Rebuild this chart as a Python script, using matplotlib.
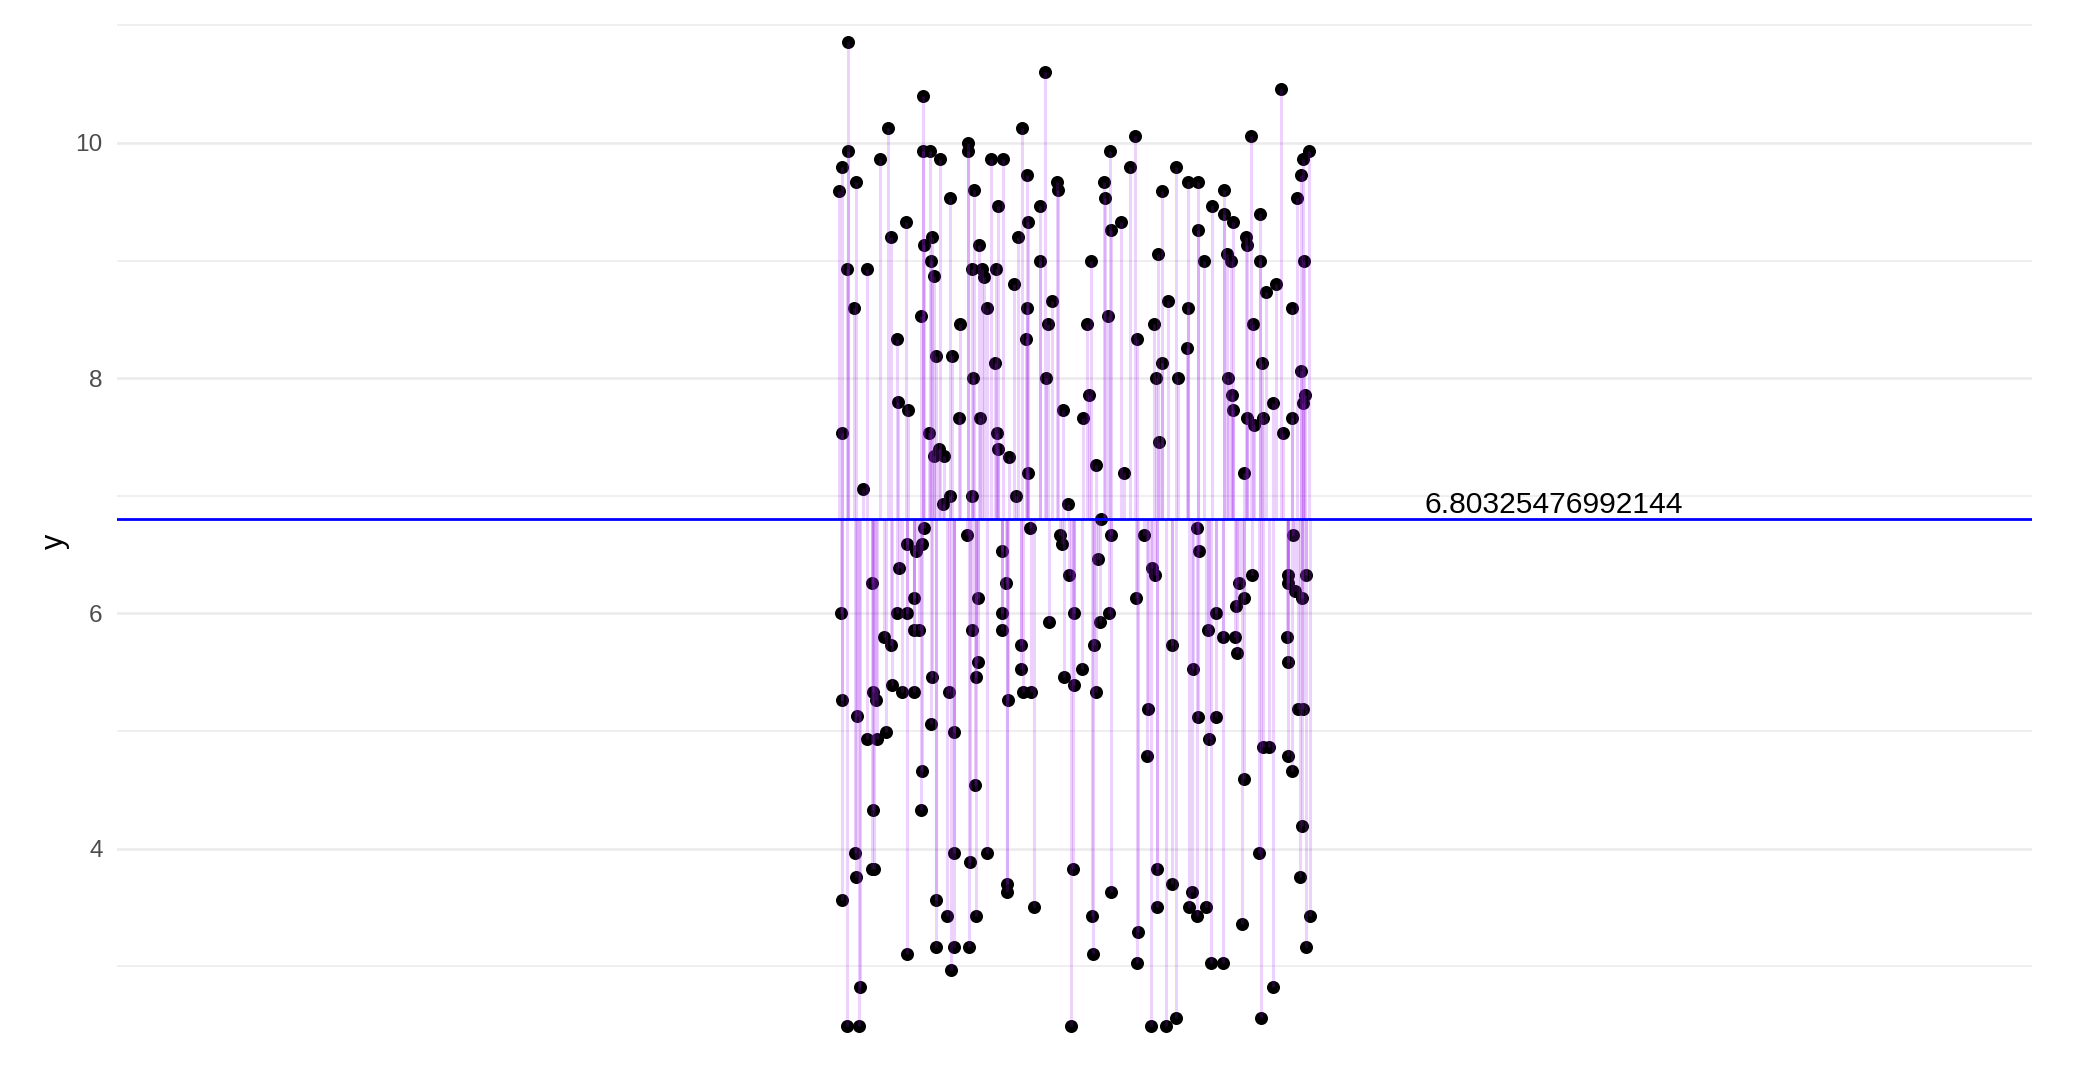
import matplotlib
matplotlib.use("Agg")
import matplotlib.pyplot as plt
import numpy as np

# x positions (as laid out on the original axis) and y values of each point
x_pos = [
    847.7, 923.3, 888.3, 847.7, 923.3, 930.0, 880.0, 940.0, 842.3, 855.7, 839.0, 950.0,
    906.0, 891.0, 931.7, 924.3, 931.0, 846.7, 867.0, 934.0, 853.7, 921.0, 897.3, 936.0,
    951.7, 898.3, 908.3, 841.7, 929.0, 939.0, 934.3, 944.3, 863.3, 943.3, 950.0, 924.0,
    907.3, 922.3, 915.7, 899.0, 871.7, 914.3, 840.7, 897.3, 907.3, 914.3, 919.0, 883.7,
    891.0, 931.7, 892.3, 873.3, 902.3, 914.3, 949.0, 842.3, 876.0, 857.0, 931.0, 885.7,
    866.7, 877.3, 954.3, 922.3, 873.3, 921.0, 855.0, 954.3, 871.7, 874.3, 855.7, 842.3,
    936.0, 946.7, 936.0, 906.7, 954.3, 951.0, 860.0, 846.7, 859.3,
    1045.0, 1021.7, 967.7, 967.7, 990.7, 1003.3, 1027.3, 1056.7, 1057.7, 974.0, 998.3, 1040.0,
    1028.3, 1017.7, 979.0, 1040.0, 972.3, 982.3, 996.0, 984.3, 1014.0, 1052.3, 986.7, 1026.7,
    960.0, 1047.7, 1025.7, 995.0, 972.7, 1046.0, 1063.3, 959.0, 980.0, 996.7, 997.7, 1009.3,
    1027.7, 972.3, 1015.7, 1068.3, 966.7, 1030.0, 1060.0,
    1062.3, 1001.7, 1006.0, 1069.0, 977.7, 1002.3, 1049.0, 1074.3, 971.7, 1002.3, 1021.0, 977.7,
    975.7, 1021.0, 1064.3, 1074.3, 1008.3, 1023.3, 1031.0, 975.0, 970.3, 987.0, 1073.3, 1006.7,
    1006.7, 976.0, 1034.3, 969.3, 1071.0,
    1135.0, 1110.0, 1130.0, 1175.7, 1104.0, 1105.0, 1162.3, 1121.0, 1110.7, 1157.7, 1091.0, 1167.7,
    1107.7, 1086.7, 1154.3, 1136.7, 1161.7, 1156.0, 1177.7, 1089.0, 1082.7, 1159.3, 1095.7, 1124.3,
    1101.0, 1110.7, 1144.3,
    1098.3, 1152.3, 1155.0, 1135.7, 1100.0, 1109.3, 1094.0, 1171.7, 1082.3, 1096.0, 1147.7, 1146.7,
    1157.3, 1110.7, 1172.3, 1156.7, 1091.7, 1138.3, 1093.3, 1137.3, 1151.0, 1165.7, 1175.7,
    1281.0, 1251.0, 1309.0, 1303.3, 1300.7, 1187.7, 1197.7, 1224.3, 1297.3, 1211.7, 1224.3, 1232.7,
    1260.0, 1197.7, 1245.7, 1246.7, 1226.7, 1204.3, 1231.0, 1260.0, 1304.0, 1275.7, 1265.7, 1188.3,
    1291.7, 1253.3, 1186.7, 1262.3, 1301.0, 1227.7, 1231.7, 1305.0, 1303.3, 1233.3, 1272.7, 1246.7,
    1263.3, 1292.3, 1254.3, 1283.3, 1244.3, 1197.3, 1293.3,
    1199.3, 1251.7, 1239.3, 1287.7, 1287.7, 1305.7, 1295.0, 1301.7, 1244.3, 1236.0, 1216.0, 1208.3,
    1223.3, 1235.0, 1287.3, 1236.7, 1288.3, 1193.3, 1297.7, 1303.3, 1198.3, 1216.0, 1209.0, 1263.3,
    1269.3, 1288.3, 1292.3, 1244.3, 1302.3, 1259.3, 1300.3, 1192.3, 1189.3, 1197.3, 1205.7, 1242.3,
    1310.0, 1305.7, 1211.0, 1223.3, 1273.3, 1260.7,
]
y_val = [
    10.86, 10.40, 10.13, 9.93, 9.93, 9.93, 9.86, 9.86, 9.80, 9.67, 9.59, 9.53,
    9.33, 9.20, 9.20, 9.13, 9.00, 8.93, 8.93, 8.87, 8.60, 8.53, 8.33, 8.19,
    8.19, 7.80, 7.73, 7.53, 7.53, 7.40, 7.34, 7.34, 7.06, 6.93, 7.00, 6.73,
    6.59, 6.59, 6.53, 6.39, 6.26, 6.13, 6.00, 6.00, 6.00, 5.86, 5.86, 5.80,
    5.73, 5.46, 5.39, 5.33, 5.33, 5.33, 5.33, 5.26, 5.26, 5.13, 5.06, 4.99,
    4.93, 4.93, 4.99, 4.66, 4.33, 4.33, 3.96, 3.96, 3.83, 3.83, 3.76, 3.56,
    3.56, 3.43, 3.16, 3.10, 3.16, 2.97, 2.82, 2.49, 2.49,
    10.60, 10.13, 10.00, 9.93, 9.86, 9.86, 9.73, 9.67, 9.60, 9.60, 9.46, 9.46,
    9.33, 9.20, 9.13, 9.00, 8.93, 8.93, 8.93, 8.86, 8.80, 8.66, 8.60, 8.60,
    8.46, 8.46, 8.33, 8.13, 8.00, 8.00, 7.73, 7.66, 7.66, 7.53, 7.40, 7.33,
    7.19, 7.00, 7.00, 6.93, 6.67, 6.73, 6.67,
    6.59, 6.53, 6.26, 6.33, 6.13, 6.00, 5.93, 6.00, 5.86, 5.86, 5.73, 5.59,
    5.46, 5.53, 5.46, 5.39, 5.26, 5.33, 5.33, 4.54, 3.89, 3.96, 3.83, 3.70,
    3.63, 3.43, 3.50, 3.16, 2.49,
    10.06, 9.93, 9.80, 9.80, 9.67, 9.53, 9.59, 9.33, 9.26, 9.06, 9.00, 8.66,
    8.53, 8.46, 8.46, 8.33, 8.13, 8.00, 8.00, 7.86, 7.66, 7.46, 7.26, 7.19,
    6.80, 6.67, 6.67,
    6.46, 6.39, 6.33, 6.13, 5.93, 6.00, 5.73, 5.73, 5.53, 5.33, 5.19, 4.79,
    3.83, 3.63, 3.70, 3.50, 3.43, 3.29, 3.10, 3.03, 2.49, 2.49, 2.56,
    10.46, 10.06, 9.93, 9.86, 9.73, 9.67, 9.67, 9.60, 9.53, 9.46, 9.40, 9.33,
    9.40, 9.26, 9.20, 9.13, 9.06, 9.00, 9.00, 9.00, 9.00, 8.80, 8.73, 8.60,
    8.60, 8.46, 8.26, 8.13, 8.06, 8.00, 7.86, 7.86, 7.79, 7.73, 7.79, 7.66,
    7.66, 7.66, 7.60, 7.53, 7.19, 6.73, 6.67,
    6.53, 6.33, 6.26, 6.33, 6.26, 6.33, 6.19, 6.13, 6.13, 6.06, 6.00, 5.86,
    5.80, 5.80, 5.80, 5.66, 5.59, 5.53, 5.19, 5.19, 5.12, 5.12, 4.93, 4.86,
    4.86, 4.79, 4.66, 4.59, 4.19, 3.96, 3.76, 3.63, 3.50, 3.43, 3.50, 3.36,
    3.43, 3.16, 3.03, 3.03, 2.82, 2.56,
]
mean_y = 6.80325476992144
mean_label = "6.80325476992144"
label_x = 1554
major_ticks = [4, 6, 8, 10]
minor_ticks = [3, 5, 7, 9, 11]

x = np.array(x_pos)
y = np.array(y_val)

plt.rcParams['font.family'] = ['Liberation Sans', 'DejaVu Sans']

fig = plt.figure(figsize=(10.4, 5.46), dpi=200, facecolor='white')
ax = fig.add_axes([0.0561, 0.015, 0.9208, 0.979])

ax.set_xlim(116.7, 2032)
ax.set_ylim(2.07, 11.16)

# grid like theme_minimal
for t in major_ticks:
    ax.axhline(t, color='#EBEBEB', lw=0.9, zorder=0)
for t in minor_ticks:
    ax.axhline(t, color='#EBEBEB', lw=0.55, zorder=0)

ax.scatter(x, y, s=22, color='black', zorder=2, linewidths=0)
ax.vlines(x, mean_y, y, colors='#A020F0', alpha=0.2, linewidth=1.1, zorder=3)
ax.axhline(mean_y, color='blue', lw=1.0, zorder=4)
ax.text(label_x, mean_y + 0.05, mean_label, ha='center', va='baseline',
        fontsize=10.8, color='black', zorder=5)

ax.set_yticks(major_ticks)
ax.set_yticklabels([str(t) for t in major_ticks])
ax.set_xticks([])
ax.tick_params(axis='y', length=0, pad=5, labelsize=8.8, labelcolor='#4D4D4D')
for s in ax.spines.values():
    s.set_visible(False)
ax.set_ylabel('y', fontsize=11, labelpad=2)

fig.savefig('out.png', dpi=200, facecolor='white')
